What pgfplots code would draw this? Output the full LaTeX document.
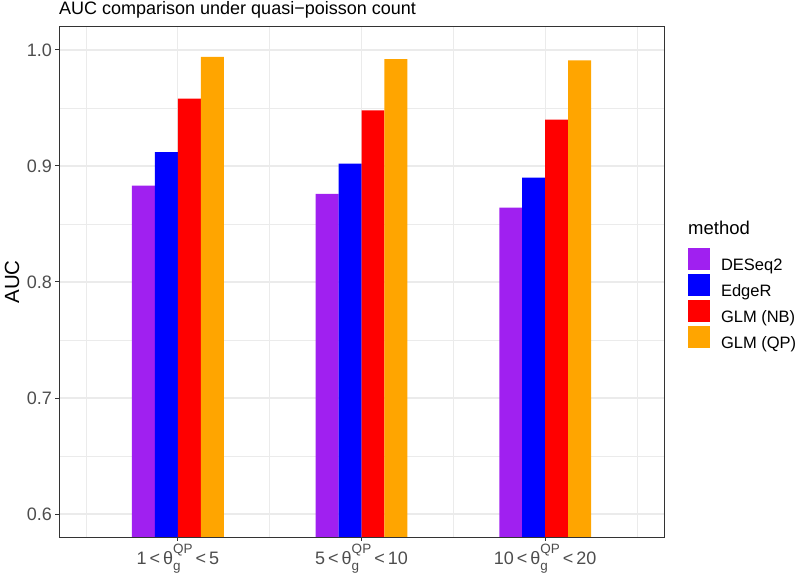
\documentclass[border=0pt]{standalone}
\usepackage{fontspec}
\setmainfont{Liberation Sans}
\usepackage{pgfplots}
\pgfplotsset{compat=1.18}
\definecolor{cDE}{HTML}{A020F0}
\definecolor{cED}{HTML}{0000FF}
\definecolor{cNB}{HTML}{FF0000}
\definecolor{cQP}{HTML}{FFA500}
\definecolor{gridc}{HTML}{EBEBEB}
\definecolor{g20}{HTML}{333333}
\definecolor{g30}{HTML}{4D4D4D}
\newcommand\fs[1]{\fontsize{#1bp}{#1bp}\selectfont}
\newcommand\thg{θ\rlap{\raisebox{-0.3em}{\fs{13.5}g}}\raisebox{0.62em}{\fs{13.5}QP}}
\begin{document}
\begin{tikzpicture}
\begin{axis}[
  at={(0,0)}, anchor=south west,
  scale only axis, width=605bp, height=510bp,
  xmin=0.353, xmax=3.647, ymin=0.5802, ymax=1.0198,
  axis line style={g20, line width=1bp},
  xtick={1,2,3},
  xticklabels={{1\,<\,\thg{}\,<\,5},{5\,<\,\thg{}\,<\,10},{10\,<\,\thg{}\,<\,20}},
  minor xtick={0.5,1.5,2.5,3.5},
  ytick={0.6,0.7,0.8,0.9,1.0},
  minor ytick={0.65,0.75,0.85,0.95},
  yticklabel style={/pgf/number format/.cd, fixed, fixed zerofill, precision=1},
  /pgf/number format/assume math mode=true,
  tick label style={font=\fs{18}, text=g30},
  tick align=outside, xtick pos=left, ytick pos=left,
  major tick length=3.7bp, minor tick length=0pt,
  tick style={g20, line width=1bp},
  xmajorgrids, ymajorgrids, xminorgrids, yminorgrids,
  major grid style={gridc, line width=1.07bp},
  minor grid style={gridc, line width=0.53bp},
  ylabel={AUC},
  ylabel style={at={(axis description cs:0,0.5)}, yshift=47bp, anchor=center, font=\fs{20.5}},
  ybar, bar width=0.125,
  legend style={at={(1,0)}, anchor=north west, xshift=24bp, yshift=289bp,
    draw=none, fill=none, inner sep=0pt, outer sep=0pt,
    row sep=2.3bp, font=\fs{16.5},
    nodes={inner sep=0pt, outer sep=0pt}},
  legend cell align=left,
  legend image code/.code={\fill[#1] (0bp,-5bp) rectangle (22bp,17bp);},
  legend style={column sep=0pt},
  legend entries={\hspace{11bp}DESeq2,\hspace{11bp}EdgeR,\hspace{11bp}GLM (NB),\hspace{11bp}GLM (QP)},
  clip mode=individual,
]
\addplot[fill=cDE, draw=none, bar shift=-0.1875] coordinates {(1,0.883) (2,0.876) (3,0.864)};
\addplot[fill=cED, draw=none, bar shift=-0.0625] coordinates {(1,0.912) (2,0.902) (3,0.890)};
\addplot[fill=cNB, draw=none, bar shift=0.0625] coordinates {(1,0.958) (2,0.948) (3,0.940)};
\addplot[fill=cQP, draw=none, bar shift=0.1875] coordinates {(1,0.994) (2,0.992) (3,0.991)};
\node[anchor=base west, font=\fs{18}, inner sep=0pt] at (rel axis cs:0,1) [yshift=12bp] {AUC comparison under quasi−poisson count};
\node[anchor=base west, font=\fs{18.5}, inner sep=0pt] at (rel axis cs:1,0) [xshift=24bp, yshift=302bp] {method};
\end{axis}
\pgfresetboundingbox
\path[use as bounding box] (-59bp,-39bp) rectangle (741bp,537bp);
\end{tikzpicture}
\end{document}
